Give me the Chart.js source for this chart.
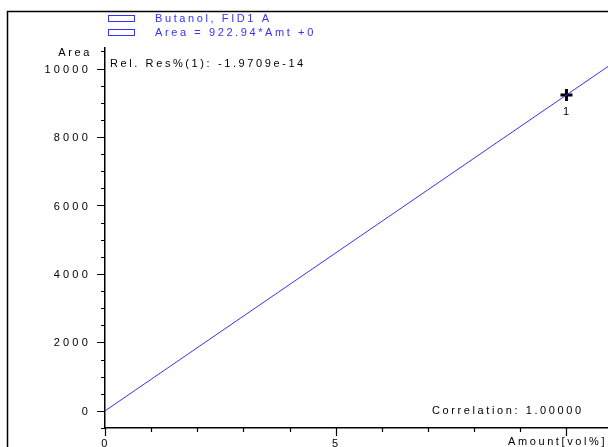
<!DOCTYPE html>
<html>
<head>
<meta charset="utf-8">
<script src="https://cdn.jsdelivr.net/npm/chart.js@4.4.0/dist/chart.umd.min.js"></script>
<style>html,body{margin:0;padding:0;background:#fff;overflow:hidden}</style>
</head>
<body>
<canvas id="myChart" width="608" height="447"></canvas>
<script>
// calibration level
let calAmounts = [10];
let calAreas = [9229.4];
let calLabels = ['1'];
// fitted line Area = 922.94*Amt +0, end points
let fitAmounts = [0, 11];
let fitAreas = [0, 10152.3];

let legendTexts = ['Butanol, FID1 A', 'Area = 922.94*Amt +0'];
let resText = 'Rel. Res%(1): -1.9709e-14';
let corrText = 'Correlation: 1.00000';
let xTitle = 'Amount[vol%]';
let yTitle = 'Area';

// major ticks, and the ones that carry a label
let xMajor = [0, 5, 10];
let xLabeled = [0, 5];
let yMajor = [0, 2000, 4000, 6000, 8000, 10000];

let txtFont = '11px "Liberation Sans", Arial, sans-serif';
let blue = '#3434f4';

let decoPlugin = {
    id: 'deco',
    afterDraw: (chart) => {
        let c = chart.ctx;
        let xs = chart.scales.x, ys = chart.scales.y;
        let area = chart.chartArea;
        c.save();
        // frame
        c.strokeStyle = '#000';
        c.lineWidth = 1.5;
        c.beginPath();
        c.moveTo(7.5, 460);
        c.lineTo(7.5, 11.5);
        c.lineTo(620, 11.5);
        c.stroke();
        // tick marks
        c.lineWidth = 1.2;
        c.beginPath();
        for (let v = 0; v <= 10; v++) {
            let px = Math.round(xs.getPixelForValue(v)) + 0.5;
            let len = xMajor.includes(v) ? 8 : 4;
            c.moveTo(px, area.bottom);
            c.lineTo(px, area.bottom + len);
        }
        for (let v = -500; v <= 10500; v += 500) {
            let py = Math.round(ys.getPixelForValue(v)) + 0.5;
            let len = yMajor.includes(v) ? 8 : 4;
            c.moveTo(area.left, py);
            c.lineTo(area.left - len, py);
        }
        c.stroke();
        c.font = txtFont;
        c.fillStyle = '#000';
        // tick labels
        c.letterSpacing = '3.2px';
        c.textBaseline = 'middle';
        c.textAlign = 'right';
        yMajor.forEach(v => {
            c.fillText(String(v), 91, ys.getPixelForValue(v) + 1);
        });
        c.textAlign = 'center';
        c.textBaseline = 'top';
        xLabeled.forEach(v => {
            c.fillText(String(v), xs.getPixelForValue(v) + 1, 438);
        });
        c.letterSpacing = '2.6px';
        // legend
        c.textBaseline = 'middle';
        c.textAlign = 'left';
        c.strokeStyle = blue;
        c.lineWidth = 1;
        c.fillStyle = blue;
        legendTexts.forEach((t, i) => {
            c.strokeRect(108.5, 15.5 + i * 14, 26, 6);
            c.fillText(t, 155, 19 + i * 14);
        });
        // annotations
        c.fillStyle = '#000';
        c.fillText(resText, 110, 64);
        c.fillText(corrText, 432, 411);
        c.fillText(xTitle, 508, 442);
        c.textAlign = 'right';
        c.fillText(yTitle, 92, 53);
        // point labels
        c.textAlign = 'center';
        chart.getDatasetMeta(1).data.forEach((pt, i) => {
            c.fillText(calLabels[i], pt.x + 1, pt.y + 17);
        });
        c.restore();
    }
};

let ctx = document.getElementById('myChart').getContext('2d');
let myChart = new Chart(ctx, {
    type: 'scatter',
    data: {
        datasets: [{
            type: 'line',
            label: legendTexts[1],
            data: fitAmounts.map((x, i) => ({x: x, y: fitAreas[i]})),
            borderColor: blue,
            borderWidth: 1,
            pointRadius: 0,
            fill: false
        }, {
            label: legendTexts[0],
            data: calAmounts.map((x, i) => ({x: x, y: calAreas[i]})),
            pointStyle: 'cross',
            pointRadius: 6,
            borderColor: '#000',
            backgroundColor: '#000',
            borderWidth: 3
        }]
    },
    options: {
        responsive: false,
        animation: false,
        layout: { autoPadding: false, padding: { top: 48, left: 0, right: 0, bottom: 0 } },
        plugins: { legend: { display: false }, tooltip: { enabled: false } },
        scales: {
            x: {
                type: 'linear',
                min: 0,
                max: 10.9,
                afterFit: (s) => { s.height = 19; s.paddingLeft = 0; s.paddingRight = 0; },
                ticks: { display: false, stepSize: 1 },
                grid: { display: false },
                border: { display: true, color: '#000', width: 1.5 }
            },
            y: {
                min: -500,
                max: 10600,
                afterFit: (s) => { s.width = 105; s.paddingTop = 0; s.paddingBottom = 0; },
                ticks: { display: false, stepSize: 500 },
                grid: { display: false },
                border: { display: true, color: '#000', width: 1.5 }
            }
        }
    },
    plugins: [decoPlugin]
});
</script>
</body>
</html>
